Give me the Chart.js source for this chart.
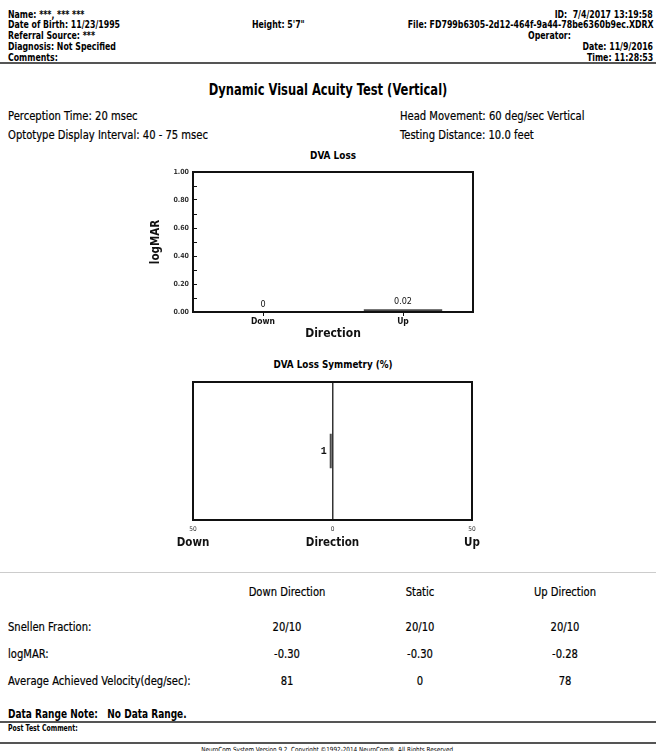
<!DOCTYPE html>
<html>
<head>
<meta charset="utf-8">
<script src="https://cdn.jsdelivr.net/npm/chart.js@4.4.1/dist/chart.umd.min.js"></script>
<style>
body { margin: 0; width: 656px; height: 751px; overflow: hidden; background: #fff; position: relative;
       font-family: "DejaVu Sans Condensed", "DejaVu Sans", sans-serif; color: #000; }
.t { position: absolute; white-space: nowrap; line-height: 1.2;
     transform: translateY(-50%) scaleX(var(--s, 0.87)); transform-origin: left center; }
.h { font-size: 10px; font-weight: bold; --s: 0.87; }
.r { right: 3px; text-align: right; transform-origin: right center; }
.m { font-size: 12.5px; -webkit-text-stroke: 0.2px #000; --s: 0.89; }
.c { width: 140px; text-align: center; transform-origin: center center; }
.ct { left: 0; width: 656px; text-align: center; transform-origin: center center; }
.rule { position: absolute; left: 0; width: 656px; }
canvas { position: absolute; }
</style>
</head>
<body>
<div class="t h" style="left:8px;top:15px">Name: ***, *** ***</div>
<div class="t h" style="left:8px;top:25px">Date of Birth: 11/23/1995</div>
<div class="t h" style="left:8px;top:36px">Referral Source: ***</div>
<div class="t h" style="left:8px;top:47px">Diagnosis: Not Specified</div>
<div class="t h" style="left:8px;top:58px">Comments:</div>
<div class="t h" style="left:252px;top:25px">Height: 5'7"</div>
<div class="t h r" style="top:15px">ID:&nbsp; 7/4/2017 13:19:58</div>
<div class="t h r" style="top:25px">File: FD799b6305-2d12-464f-9a44-78be6360b9ec.XDRX</div>
<div class="t h" style="left:528px;top:36px">Operator:</div>
<div class="t h r" style="top:47px">Date: 11/9/2016</div>
<div class="t h r" style="top:58px">Time: 11:28:53</div>
<div class="rule" style="top:62px;height:2px;background:#555"></div>

<div class="t ct" style="top:90px;font-size:16px;font-weight:bold;--s:0.8">Dynamic Visual Acuity Test (Vertical)</div>
<div class="t m" style="left:8px;top:115px">Perception Time: 20 msec</div>
<div class="t m" style="left:8px;top:134px">Optotype Display Interval: 40 - 75 msec</div>
<div class="t m" style="left:400px;top:115px">Head Movement: 60 deg/sec Vertical</div>
<div class="t m" style="left:400px;top:134px">Testing Distance: 10.0 feet</div>

<div class="t c" style="left:263px;top:156px;font-size:11px;font-weight:bold;--s:0.9">DVA Loss</div>
<canvas id="loss-chart" width="350" height="205" style="left:140px;top:140px"></canvas>
<div class="t c" style="left:263px;top:365px;font-size:11px;font-weight:bold;--s:0.89">DVA Loss Symmetry (%)</div>
<canvas id="sym-chart" width="350" height="205" style="left:140px;top:350px"></canvas>

<div class="rule" style="top:572px;height:1px;background:#ccc"></div>
<div id="table"></div>

<div class="t" style="left:8px;top:714px;font-size:13px;font-weight:bold;--s:0.77">Data Range Note:&nbsp;&nbsp; No Data Range.</div>
<div class="rule" style="top:721px;height:2px;background:#555"></div>
<div class="t" style="left:8px;top:729px;font-size:8px;font-weight:bold;--s:0.86">Post Test Comment:</div>
<div class="rule" style="top:742px;height:2px;background:#555"></div>
<div class="t ct" style="top:750px;font-size:7px;--s:0.9">NeuroCom System Version 9.2, Copyright ©1992-2014 NeuroCom®. All Rights Reserved.</div>

<script>
var directions = ['Down', 'Up'];
var dvaLoss = [0, 0.02];
var lossTicks = [0, 0.2, 0.4, 0.6, 0.8, 1.0];

var symmetryRow = ['Symmetry'];
var symmetry = [-1];            // negative = Down side
var symmetryTicks = [-50, 0, 50];
var symmetrySides = ['Down', 'Direction', 'Up'];

var tableHeads = ['Down Direction', 'Static', 'Up Direction'];
var rowNames = ['Snellen Fraction:', 'logMAR:', 'Average Achieved Velocity(deg/sec):'];
var snellen = ['20/10', '20/10', '20/10'];
var logMAR = ['-0.30', '-0.30', '-0.28'];
var velocity = ['81', '0', '78'];

var F = '"DejaVu Sans Condensed", "DejaVu Sans", sans-serif';
Chart.defaults.font.family = F;
Chart.defaults.color = '#111';

// table
var colX = [287, 420, 565], rowY = [626, 653, 680];
var html = '';
tableHeads.forEach(function (h, i) {
    html += '<div class="t m c" style="left:' + (colX[i] - 70) + 'px;top:591px">' + h + '</div>';
});
[snellen, logMAR, velocity].forEach(function (row, r) {
    html += '<div class="t m" style="left:8px;top:' + rowY[r] + 'px">' + rowNames[r] + '</div>';
    row.forEach(function (v, i) {
        html += '<div class="t m c" style="left:' + (colX[i] - 70) + 'px;top:' + rowY[r] + 'px">' + v + '</div>';
    });
});
document.getElementById('table').innerHTML = html;

var framePlugin = {
    id: 'frame',
    afterDatasetsDraw: function (chart) {
        var a = chart.chartArea, ctx = chart.ctx;
        ctx.save();
        ctx.strokeStyle = '#111';
        ctx.lineWidth = 2;
        ctx.strokeRect(a.left, a.top, a.right - a.left, a.bottom - a.top);
        ctx.restore();
    }
};

var valuePlugin = {
    id: 'values',
    afterDatasetsDraw: function (chart, args, opts) {
        var ctx = chart.ctx,
            meta = chart.getDatasetMeta(0),
            data = chart.data.datasets[0].data;
        ctx.save();
        ctx.font = opts.font;
        ctx.fillStyle = '#111';
        meta.data.forEach(function (bar, i) {
            if (chart.options.indexAxis === 'y') {
                ctx.textAlign = 'right';
                ctx.textBaseline = 'middle';
                ctx.fillText(Math.abs(data[i]), bar.x - 3, bar.y);
            } else {
                ctx.textAlign = 'center';
                ctx.textBaseline = 'bottom';
                ctx.fillText(data[i], bar.x, bar.y - 3);
            }
        });
        ctx.restore();
    }
};

var lossChart = new Chart(document.getElementById('loss-chart'), {
    type: 'bar',
    data: {
        labels: directions,
        datasets: [{
            data: dvaLoss,
            backgroundColor: '#4a4a4a',
            barPercentage: 0.56,
            categoryPercentage: 1
        }]
    },
    options: {
        responsive: false,
        animation: false,
        layout: { padding: { left: 0, right: 17, top: 32, bottom: 0 } },
        plugins: {
            legend: { display: false },
            tooltip: { enabled: false },
            values: { font: '9px ' + F }
        },
        scales: {
            x: {
                grid: { drawOnChartArea: false, offset: false, tickLength: 4, color: '#111' },
                border: { display: false },
                ticks: { font: { size: 8.5, weight: 'bold' }, padding: 1 },
                title: { display: true, text: 'Direction', font: { size: 12, weight: 'bold' }, padding: { top: 0, bottom: 4 } },
                afterFit: function (s) { s.height = 33; }
            },
            y: {
                min: 0, max: 1,
                afterBuildTicks: function (s) {
                    var t = [];
                    for (var k = 0; k <= 10; k++) t.push({ value: k / 10 });
                    s.ticks = t;
                },
                // negative tick length: marks point into the plot
                grid: { drawOnChartArea: false, tickLength: -4, color: '#111' },
                border: { display: false },
                ticks: {
                    font: { size: 7, weight: 'bold' }, color: '#333', padding: 8,
                    callback: function (v) {
                        var hit = lossTicks.some(function (l) { return Math.abs(l - v) < 1e-6; });
                        return hit ? v.toFixed(2) : '';
                    }
                },
                title: { display: true, text: 'logMAR', font: { size: 11.5, weight: 'bold' }, padding: { top: 9, bottom: 0 } },
                afterFit: function (s) { s.width = 53; }
            }
        }
    },
    plugins: [framePlugin, valuePlugin]
});

var symChart = new Chart(document.getElementById('sym-chart'), {
    type: 'bar',
    data: {
        labels: symmetryRow,
        datasets: [{
            data: symmetry,
            backgroundColor: '#4a4a4a',
            barPercentage: 0.25,
            categoryPercentage: 1
        }]
    },
    options: {
        indexAxis: 'y',
        responsive: false,
        animation: false,
        layout: { padding: { left: 53, right: 18, top: 32, bottom: 2 } },
        plugins: {
            legend: { display: false },
            tooltip: { enabled: false },
            values: { font: 'bold 10px "Liberation Mono", "DejaVu Sans Mono", monospace' }
        },
        scales: {
            y: { display: false },
            x: {
                min: -50, max: 50,
                afterBuildTicks: function (s) {
                    s.ticks = symmetryTicks.map(function (v) { return { value: v }; });
                },
                grid: {
                    drawTicks: false, lineWidth: 1.5,
                    color: function (c) { return c.tick && c.tick.value === 0 ? '#333' : 'rgba(0,0,0,0)'; }
                },
                border: { display: false },
                ticks: { font: { size: 6.5 }, color: '#333', padding: 5,
                         callback: function (v) { return Math.abs(v); } },
                afterFit: function (s) { s.height = 13; }
            },
            x2: {
                position: 'bottom',
                type: 'linear',
                min: -50, max: 50,
                afterBuildTicks: function (s) {
                    s.ticks = symmetryTicks.map(function (v) { return { value: v }; });
                },
                grid: { display: false, drawTicks: false },
                border: { display: false },
                ticks: { font: { size: 11.5, weight: 'bold' }, padding: 3,
                         callback: function (v, i) { return symmetrySides[i]; } },
                afterFit: function (s) { s.height = 20; }
            }
        }
    },
    plugins: [framePlugin, valuePlugin]
});
</script>
</body>
</html>
